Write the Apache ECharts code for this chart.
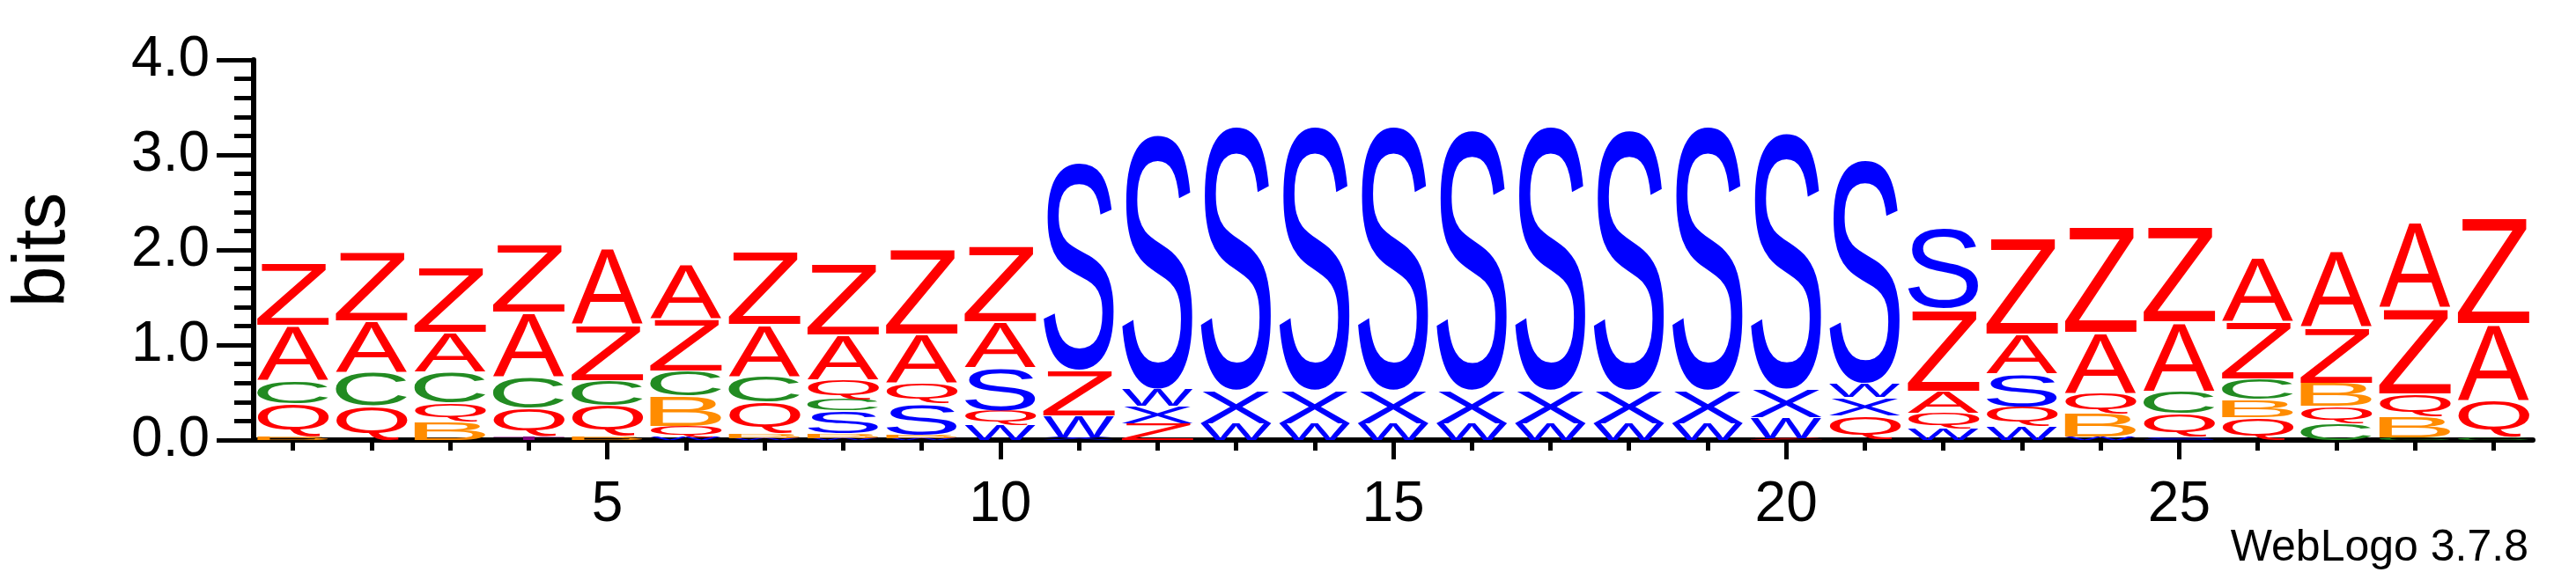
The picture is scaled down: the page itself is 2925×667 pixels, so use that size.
<!DOCTYPE html>
<html>
<head>
<meta charset="utf-8">
<script src="https://cdn.jsdelivr.net/npm/echarts@6/dist/echarts.min.js"></script>
<style>
  html, body { margin: 0; padding: 0; background: #fff; }
  #logo { width: 2925px; height: 667px; }
</style>
</head>
<body>
<div id="logo"></div>
<script>
// 每个位置的字母（从下到上）
var columnLetters = [
  ['B','Q','C','A','Z'],
  ['Q','C','A','Z'],
  ['B','Q','C','A','Z'],
  ['T','Q','C','A','Z'],
  ['B','Q','C','Z','A'],
  ['W','Q','B','C','Z','A'],
  ['W','B','Q','C','A','Z'],
  ['W','B','S','C','Q','A','Z'],
  ['W','B','S','Q','A','Z'],
  ['W','Q','S','A','Z'],
  ['X','W','Z','S'],
  ['Z','X','W','S'],
  ['W','X','S'],
  ['W','X','S'],
  ['W','X','S'],
  ['W','X','S'],
  ['W','X','S'],
  ['W','X','S'],
  ['W','X','S'],
  ['Z','W','X','S'],
  ['Q','X','W','S'],
  ['W','Q','A','Z','S'],
  ['W','Q','S','A','Z'],
  ['W','B','Q','A','Z'],
  ['S','Q','C','A','Z'],
  ['Q','B','C','Z','A'],
  ['C','Q','B','Z','A'],
  ['C','B','Q','Z','A'],
  ['C','Q','A','Z']
];
// 对应的高度 (bits)
var columnBits = [
  [0.04,0.35,0.24,0.58,0.66],
  [0.37,0.35,0.54,0.74],
  [0.20,0.19,0.33,0.42,0.69],
  [0.04,0.30,0.33,0.68,0.73],
  [0.04,0.33,0.26,0.59,0.82],
  [0.03,0.12,0.32,0.26,0.55,0.58],
  [0.02,0.05,0.33,0.28,0.54,0.78],
  [0.02,0.05,0.24,0.12,0.21,0.47,0.77],
  [0.02,0.03,0.34,0.21,0.52,0.91],
  [0.16,0.15,0.46,0.48,0.81],
  [0.03,0.23,0.48,2.24],
  [0.18,0.18,0.18,2.74],
  [0.18,0.35,2.84],
  [0.18,0.35,2.84],
  [0.18,0.35,2.84],
  [0.18,0.35,2.80],
  [0.18,0.35,2.84],
  [0.18,0.35,2.80],
  [0.18,0.35,2.84],
  [0.02,0.22,0.30,2.76],
  [0.26,0.19,0.15,2.41],
  [0.12,0.17,0.23,0.87,0.87],
  [0.15,0.20,0.35,0.42,1.03],
  [0.04,0.24,0.22,0.64,1.13],
  [0.03,0.25,0.24,0.73,1.02],
  [0.24,0.19,0.22,0.60,0.68],
  [0.18,0.18,0.24,0.59,0.81],
  [0.03,0.22,0.24,0.91,0.91],
  [0.03,0.39,0.81,1.13]
];
var xTickValues = [];
for (var i = 1; i <= 29; i++) xTickValues.push(i);
var xLabelValues = [5, 10, 15, 20, 25];

var letterColors = {
  A: '#ff0000', Z: '#ff0000', Q: '#ff0000',
  C: '#228b22', B: '#ff8c00',
  S: '#0000ff', W: '#0000ff', X: '#0000ff',
  T: '#800080'
};
var FONT = '100px "Liberation Sans", Arial, sans-serif';

// 测量字形真实边界
var glyphBox = {};
(function(){
  var ctx = document.createElement('canvas').getContext('2d');
  ctx.font = FONT;
  ctx.textBaseline = 'middle';
  ctx.textAlign = 'left';
  Object.keys(letterColors).forEach(function(ch){
    var m = ctx.measureText(ch);
    glyphBox[ch] = {
      l: m.actualBoundingBoxLeft, r: m.actualBoundingBoxRight,
      a: m.actualBoundingBoxAscent, d: m.actualBoundingBoxDescent
    };
  });
})();

// 构造堆叠数据 [位置, 下界, 上界, 字母序号]
var letterList = Object.keys(letterColors);
var stackData = [];
columnLetters.forEach(function(col, c){
  var base = 0;
  col.forEach(function(ch, k){
    var h = columnBits[c][k];
    stackData.push([c + 1, base, base + h, letterList.indexOf(ch)]);
    base += h;
  });
});

function renderLetter(params, api){
  var ch = letterList[api.value(3)];
  var pos = api.value(0);
  var p0 = api.coord([pos - 0.455, api.value(1)]);
  var p1 = api.coord([pos + 0.455, api.value(2)]);
  var w = p1[0] - p0[0];
  var hTotal = p0[1] - p1[1];
  var gap = Math.min(hTotal * 0.04, 4);
  var h = hTotal - gap;
  if (h <= 0.5) return null;
  var g = glyphBox[ch];
  return {
    type: 'group',
    x: p0[0],
    y: p1[1] + gap,
    scaleX: w / (g.l + g.r),
    scaleY: h / (g.a + g.d),
    children: [{
      type: 'text',
      style: {
        x: g.l, y: g.a,
        text: ch,
        font: FONT,
        fill: letterColors[ch],
        align: 'left',
        verticalAlign: 'middle'
      }
    }]
  };
}

var chart = echarts.init(document.getElementById('logo'));
var option = {
  animation: false,
  grid: { left: 264, right: 49, top: 68, bottom: 167 },
  xAxis: [{
    type: 'value', min: 0.5, max: 29.5,
    axisLine: { show: true, onZero: false, lineStyle: { color: '#000', width: 6 } },
    axisTick: { show: true, customValues: xTickValues, length: 12, lineStyle: { color: '#000', width: 5 } },
    axisLabel: { customValues: xLabelValues, margin: 42, fontSize: 64, color: '#000', fontFamily: 'Liberation Sans' },
    splitLine: { show: false }
  }, {
    type: 'value', min: 0.5, max: 29.5, position: 'bottom', offset: 0,
    axisLine: { show: false },
    axisTick: { show: true, customValues: xLabelValues, length: 22, lineStyle: { color: '#000', width: 5 } },
    axisLabel: { show: false },
    splitLine: { show: false }
  }],
  yAxis: {
    type: 'value', min: 0, max: 4, interval: 1,
    name: 'bits', nameLocation: 'middle', nameGap: 196,
    nameTextStyle: { fontSize: 84, color: '#000', fontFamily: 'Liberation Sans' },
    axisLine: { show: true, lineStyle: { color: '#000', width: 6 } },
    axisTick: { show: true, length: 42, lineStyle: { color: '#000', width: 5 } },
    minorTick: { show: true, splitNumber: 5, length: 22, lineStyle: { color: '#000', width: 5 } },
    axisLabel: { margin: 50, fontSize: 64, color: '#000', fontFamily: 'Liberation Sans',
      formatter: function(v){ return v.toFixed(1); } },
    splitLine: { show: false }
  },
  graphic: [{
    type: 'text', right: 54, top: 598,
    style: { text: 'WebLogo 3.7.8', font: '50px "Liberation Sans"', fill: '#000' }
  }],
  series: [{
    type: 'custom',
    renderItem: renderLetter,
    data: stackData,
    encode: { x: 0, y: [1, 2] }
  }]
};
chart.setOption(option);
</script>
</body>
</html>
